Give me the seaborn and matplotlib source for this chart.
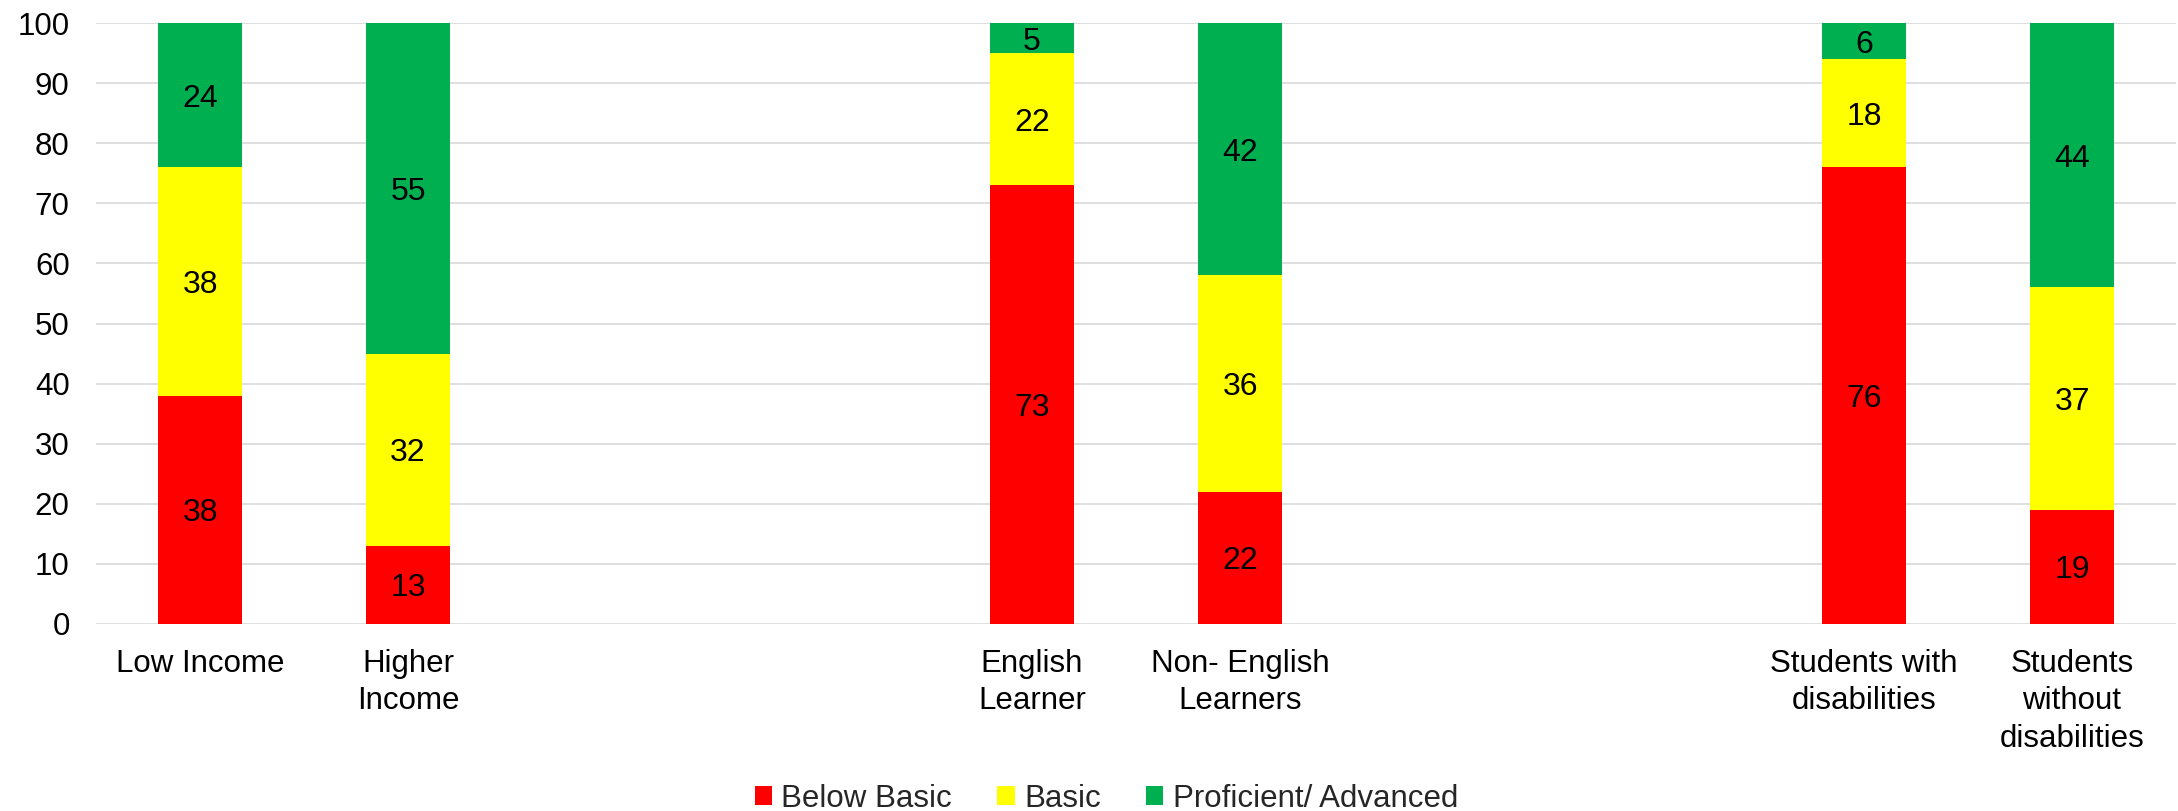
import matplotlib
matplotlib.use("Agg")
import matplotlib.pyplot as plt
from matplotlib.patches import Patch
import numpy as np
import pandas as pd
import seaborn as sns

# Student groups (line breaks as shown under the axis) and empty spacer slots
groups = ["Low Income", "Higher\nIncome",
          "English\nLearner", "Non- English\nLearners",
          "Students with\ndisabilities", "Students\nwithout\ndisabilities"]
slot_order = ["Low Income", "Higher\nIncome", " ", "  ",
              "English\nLearner", "Non- English\nLearners", "   ", "    ",
              "Students with\ndisabilities", "Students\nwithout\ndisabilities"]

levels = ["Below Basic", "Basic", "Proficient/ Advanced"]
below_basic = [38, 13, 73, 22, 76, 19]
basic = [38, 32, 22, 36, 18, 37]
proficient = [24, 55, 5, 42, 6, 44]
level_colors = ["#FF0000", "#FFFF00", "#00B050"]
y_ticks = list(range(0, 101, 10))

sns.set_theme(style="white")
plt.rcParams["font.family"] = ["Liberation Sans", "DejaVu Sans"]

df = pd.DataFrame({"group": groups, "Below Basic": below_basic,
                   "Basic": basic, "Proficient/ Advanced": proficient})
stack = df[levels].cumsum(axis=1)

fig = plt.figure(figsize=(21.78, 8.11), dpi=100)
ax = fig.add_axes([0.0441, 0.2306, 0.9550, 0.7410])

# Stacked bars: draw cumulative totals from the top segment down
for lvl, col in reversed(list(zip(levels, level_colors))):
    sns.barplot(data=stack.assign(group=df["group"]), x="group", y=lvl,
                order=slot_order, color=col, width=0.4, linewidth=0,
                saturation=1, errorbar=None, ax=ax)

# Segment value labels
for i, g in enumerate(groups):
    pos = slot_order.index(g)
    bottom = 0
    for lvl in levels:
        v = df.loc[i, lvl]
        ax.text(pos, bottom + v / 2, f"{v}", ha="center",
                va="center_baseline", fontsize=23, color="black")
        bottom += v

ax.set_ylim(0, 100)
ax.set_xlim(-0.5, len(slot_order) - 0.5)
ax.set_yticks(y_ticks)
ax.set_xlabel("")
ax.set_ylabel("")
ax.yaxis.grid(True, color="#D9D9D9", linewidth=1.2)
ax.set_axisbelow(True)
for s in ax.spines.values():
    s.set_visible(False)
ax.tick_params(axis="y", length=0, pad=19, labelsize=22.5, labelcolor="black")
ax.tick_params(axis="x", length=0, pad=18, labelsize=22.5, labelcolor="black")
for lab in ax.get_xticklabels():
    lab.set_linespacing(1.32)

handles = [Patch(facecolor=c, edgecolor="none") for c in level_colors]
fig.legend(handles, levels, loc="center", bbox_to_anchor=(0.508, 0.015),
           ncol=3, frameon=False, fontsize=22.5, handlelength=0.55,
           handleheight=0.55, handletextpad=0.3, columnspacing=1.45,
           borderpad=0, borderaxespad=0)

fig.savefig("out.png", dpi=100)
